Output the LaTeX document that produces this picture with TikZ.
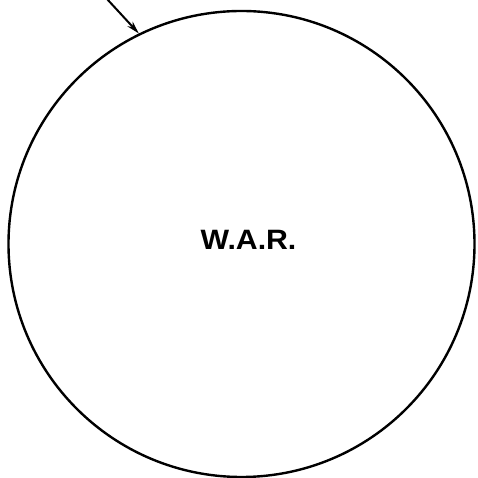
\documentclass[tikz,border=0pt]{standalone}
\usepackage{fontspec}
\setmainfont{Liberation Sans}
\usetikzlibrary{arrows.meta}
\begin{document}
\begin{tikzpicture}[x=1pt,y=1pt,
  ring/.style={circle,draw,line width=2.4pt,minimum size=466pt,inner sep=0pt},
  lbl/.style={font=\fontsize{28}{30}\selectfont\bfseries,inner sep=0pt},
  pointer/.style={line width=2pt,-{Stealth[length=13pt,width=7pt]}}]
\useasboundingbox (0,0) rectangle (477,478);
\node[ring] (war) at (241.5,234) {};
\node[lbl,xscale=1.08] (t) at (248.5,238) {W.A.R.};
\coordinate (s) at (107,479);
\draw[pointer] (s) -- (war.116);
\end{tikzpicture}
\end{document}
